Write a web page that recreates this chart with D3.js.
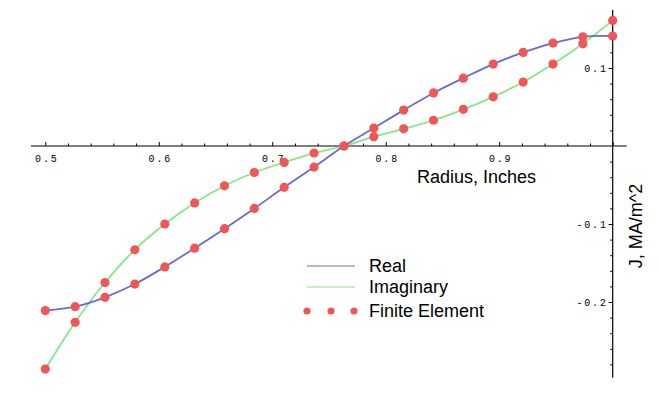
<!DOCTYPE html>
<html>
<head>
<meta charset="utf-8">
<script src="https://cdn.jsdelivr.net/npm/d3@7"></script>
<style>
  body { margin: 0; background: #fff; }
  .tick text { font-family: "Liberation Mono", monospace; font-size: 10px; letter-spacing: 1.8px; fill: #000; }
  .title { font-family: "Liberation Sans", Arial, sans-serif; font-size: 18px; fill: #000; }
</style>
</head>
<body>
<div class="chart"></div>
<script>
// radius in inches, current density J in MA/m^2
var radius = [0.5, 0.5263, 0.5526, 0.5789, 0.6053, 0.6316, 0.6579, 0.6842, 0.7105, 0.7368,
              0.7632, 0.7895, 0.8158, 0.8421, 0.8684, 0.8947, 0.9211, 0.9474, 0.9737, 1.0];
var realJ = [-0.211, -0.206, -0.194, -0.177, -0.155, -0.131, -0.106, -0.080, -0.053, -0.027,
             0.000, 0.023, 0.046, 0.068, 0.087, 0.105, 0.120, 0.132, 0.140, 0.141];
var imagJ = [-0.286, -0.226, -0.175, -0.133, -0.100, -0.073, -0.051, -0.034, -0.021, -0.009,
             0.000, 0.012, 0.022, 0.033, 0.047, 0.063, 0.082, 0.105, 0.131, 0.161];

var xMajor = [0.5, 0.6, 0.7, 0.8, 0.9, 1.0];
var xMinor = [0.52, 0.54, 0.56, 0.58, 0.62, 0.64, 0.66, 0.68, 0.72, 0.74, 0.76, 0.78,
              0.82, 0.84, 0.86, 0.88, 0.92, 0.94, 0.96, 0.98];
var yMajor = [-0.2, -0.1, 0.1];
var yMinor = [-0.28, -0.26, -0.24, -0.22, -0.18, -0.16, -0.14, -0.12, -0.08, -0.06, -0.04, -0.02,
              0.02, 0.04, 0.06, 0.08, 0.12, 0.14, 0.16];
var legendItems = ["Real", "Imaginary", "Finite Element"];

var width = 660, height = 398;
var blue = "#6a6ad0", green = "#84e884", red = "#f05656";

var svg = d3.select(".chart")
  .append("svg")
  .attr("width", width)
  .attr("height", height);

var x = d3.scaleLinear().domain([0.5, 1.0]).range([45.3, 612.7]);
var y = d3.scaleLinear().domain([0, 0.1]).range([146, 68]);

// axes cross at J = 0 and r = 1
var xAxisG = svg.append("g").attr("transform", "translate(0," + y(0) + ")");
xAxisG.append("g")
  .call(d3.axisTop(x).tickValues(xMinor).tickSize(2.5).tickFormat(""))
  .select(".domain").remove();
xAxisG.append("g")
  .call(d3.axisTop(x).tickValues(xMajor).tickSize(4).tickFormat(function (d) { return d < 1 ? d3.format(".1f")(d) : ""; }))
  .call(function (g) {
    g.select(".domain").remove();
    g.selectAll(".tick text").attr("y", 16).attr("dy", 0).attr("dx", 1);
  });
xAxisG.append("line")
  .attr("x1", x(0.4874)).attr("x2", x(1.0123))
  .attr("stroke", "#000").attr("stroke-width", 1.2);

var yAxisG = svg.append("g").attr("transform", "translate(" + x(1.0) + ",0)");
yAxisG.append("g")
  .call(d3.axisLeft(y).tickValues(yMinor).tickSize(2.5).tickFormat(""))
  .select(".domain").remove();
yAxisG.append("g")
  .call(d3.axisLeft(y).tickValues(yMajor).tickSize(4).tickPadding(1).tickFormat(d3.format(".1f")))
  .call(function (g) {
    g.select(".domain").remove();
    g.selectAll(".tick text").text(function (d) { return d3.format(".1f")(d).replace("−", "-"); });
  });
yAxisG.append("line")
  .attr("y1", y(0.1744)).attr("y2", y(-0.2972))
  .attr("stroke", "#000").attr("stroke-width", 1.2);

svg.selectAll(".tick line").attr("stroke", "#000");

svg.append("text")
  .attr("class", "title")
  .attr("x", 417)
  .attr("y", 183)
  .text("Radius, Inches");

svg.append("text")
  .attr("class", "title")
  .attr("text-anchor", "middle")
  .attr("transform", "translate(642,226) rotate(-90)")
  .text("J, MA/m^2");

// curves
var line = d3.line()
  .x(function (d) { return x(d[0]); })
  .y(function (d) { return y(d[1]); })
  .curve(d3.curveCatmullRom);

svg.append("path")
  .datum(d3.zip(radius, imagJ))
  .attr("d", line)
  .attr("fill", "none")
  .attr("stroke", green)
  .attr("stroke-width", 1.8);

svg.append("path")
  .datum(d3.zip(radius, realJ))
  .attr("d", line)
  .attr("fill", "none")
  .attr("stroke", blue)
  .attr("stroke-width", 1.8);

// finite element points
var pts = d3.zip(radius, realJ).concat(d3.zip(radius, imagJ));
svg.selectAll("circle.fe")
  .data(pts)
  .enter()
  .append("circle")
  .attr("class", "fe")
  .attr("cx", function (d) { return x(d[0]); })
  .attr("cy", function (d) { return y(d[1]); })
  .attr("r", 4.6)
  .style("fill", red);

// legend
var legend = svg.append("g").attr("transform", "translate(307,0)");
var rowY = [266, 287, 311];
legend.selectAll("text")
  .data(legendItems)
  .enter()
  .append("text")
  .attr("class", "title")
  .attr("x", 62)
  .attr("y", function (d, i) { return rowY[i] + 6; })
  .text(function (d) { return d; });

legend.append("line")
  .attr("x1", 0).attr("x2", 48).attr("y1", rowY[0]).attr("y2", rowY[0])
  .attr("stroke", blue).attr("stroke-width", 1);
legend.append("line")
  .attr("x1", 0).attr("x2", 48).attr("y1", rowY[1]).attr("y2", rowY[1])
  .attr("stroke", green).attr("stroke-width", 1);
legend.selectAll("circle")
  .data([0, 24, 47])
  .enter()
  .append("circle")
  .attr("cx", function (d) { return d; })
  .attr("cy", rowY[2])
  .attr("r", 3.6)
  .style("fill", red);
</script>
</body>
</html>
